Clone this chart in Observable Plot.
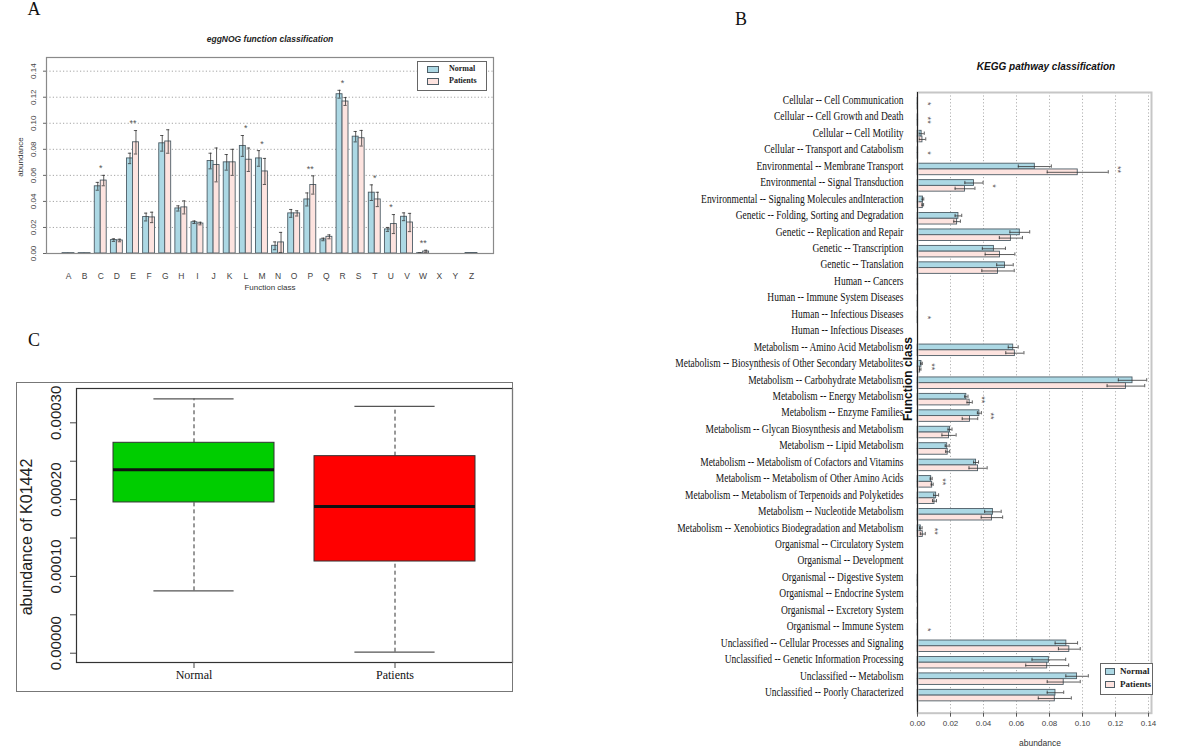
<!DOCTYPE html>
<html><head><meta charset="utf-8">
<script src="https://cdn.jsdelivr.net/npm/d3@7"></script>
<script src="https://cdn.jsdelivr.net/npm/@observablehq/plot@0.6"></script>
<style>
body{margin:0;background:#fff;}
#wrap{position:relative;width:1200px;height:750px;overflow:hidden;background:#fff;font-family:"Liberation Sans",Arial,sans-serif;}
.abs{position:absolute;white-space:nowrap;}
.legend{position:absolute;background:#fff;font-family:"Liberation Serif",serif;font-weight:bold;color:#222;}
.legend .row{position:absolute;white-space:nowrap;line-height:1;}
.legend .sw{display:inline-block;border:1px solid #4d5d66;vertical-align:middle;}
svg{overflow:visible;}
</style></head><body><div id="wrap"></div>
<script>
// ---------- Panel A data (eggNOG) ----------
const eggCats = ["A","B","C","D","E","F","G","H","I","J","K","L","M","N","O","P","Q","R","S","T","U","V","W","X","Y","Z"];
const eggNormal   = [0.0003,0.0003,0.0516,0.0103,0.0730,0.0280,0.0846,0.0346,0.0240,0.0710,0.0700,0.0826,0.0730,0.0059,0.0308,0.0415,0.0108,0.1223,0.0897,0.0467,0.0185,0.0282,0.0003,0,0,0.0004];
const eggPatients = [0.0003,0.0003,0.0560,0.0100,0.0854,0.0277,0.0860,0.0354,0.0230,0.0680,0.0700,0.0720,0.0630,0.0085,0.0308,0.0526,0.0128,0.1167,0.0885,0.0415,0.0226,0.0238,0.0015,0,0,0.0004];
const eggNormalErr   = [0,0,0.003,0.001,0.004,0.003,0.006,0.002,0.001,0.006,0.006,0.008,0.006,0.003,0.003,0.005,0.001,0.003,0.004,0.006,0.0015,0.003,0.0003,0,0,0];
const eggPatientsErr = [0,0,0.004,0.001,0.009,0.004,0.009,0.005,0.001,0.013,0.010,0.009,0.010,0.0077,0.002,0.007,0.0015,0.003,0.006,0.0055,0.0073,0.007,0.001,0,0,0];
const eggSig = ["","","*","","**","","","","","","","*","*","","","**","","*","","*","*","","**","","",""];
const eggTicks = [0,0.02,0.04,0.06,0.08,0.10,0.12,0.14];

// ---------- Panel B data (KEGG) ----------
const keggLabels = [
"Cellular -- Cell Communication","Cellular -- Cell Growth and Death","Cellular -- Cell Motility","Cellular -- Transport and Catabolism",
"Environmental -- Membrane Transport","Environmental -- Signal Transduction","Environmental -- Signaling Molecules andInteraction",
"Genetic -- Folding, Sorting and Degradation","Genetic -- Replication and Repair","Genetic -- Transcription","Genetic -- Translation",
"Human -- Cancers","Human -- Immune System Diseases","Human -- Infectious Diseases","Human -- Infectious Diseases",
"Metabolism -- Amino Acid Metabolism","Metabolism -- Biosynthesis of Other Secondary Metabolites","Metabolism -- Carbohydrate Metabolism",
"Metabolism -- Energy Metabolism","Metabolism -- Enzyme Families","Metabolism -- Glycan Biosynthesis and Metabolism","Metabolism -- Lipid Metabolism",
"Metabolism -- Metabolism of Cofactors and Vitamins","Metabolism -- Metabolism of Other Amino Acids","Metabolism -- Metabolism of Terpenoids and Polyketides",
"Metabolism -- Nucleotide Metabolism","Metabolism -- Xenobiotics Biodegradation and Metabolism",
"Organismal -- Circulatory System","Organismal -- Development","Organismal -- Digestive System","Organismal -- Endocrine System",
"Organismal -- Excretory System","Organismal -- Immune System",
"Unclassified -- Cellular Processes and Signaling","Unclassified -- Genetic Information Processing","Unclassified -- Metabolism","Unclassified -- Poorly Characterized"];
const keggNormal   = [0.0002,0.0004,0.0025,0.0004,0.0711,0.0342,0.0033,0.0248,0.0620,0.0463,0.0530,0.0004,0.0002,0.0001,0,0.0580,0.0024,0.1303,0.0296,0.0375,0.0197,0.0180,0.0355,0.0083,0.0113,0.0457,0.0020,0,0,0.0001,0.0002,0.0002,0.0003,0.0902,0.0796,0.0967,0.0836];
const keggPatients = [0.0002,0.0004,0.0030,0.0004,0.0971,0.0288,0.0032,0.0240,0.0566,0.0500,0.0488,0.0004,0.0002,0.0001,0,0.0590,0.0016,0.1263,0.0316,0.0318,0.0191,0.0183,0.0367,0.0089,0.0103,0.0451,0.0032,0,0,0.0001,0.0002,0.0002,0.0003,0.0920,0.0786,0.0886,0.0832];
const keggNormalErr   = [0,0,0.0016,0,0.010,0.0055,0.0005,0.002,0.006,0.007,0.005,0,0,0,0,0.003,0.0005,0.0086,0.001,0.0012,0.0012,0.0012,0.0015,0.0006,0.0015,0.005,0.0008,0,0,0,0,0,0,0.0068,0.0102,0.0068,0.005];
const keggPatientsErr = [0,0,0.002,0,0.0185,0.006,0.0005,0.002,0.007,0.009,0.0098,0,0,0,0,0.0055,0.0005,0.0114,0.0016,0.0047,0.0043,0.0012,0.0055,0.0006,0.0012,0.0065,0.0015,0,0,0,0,0,0,0.0066,0.013,0.010,0.010];
const keggSig = ["*","**","","*","**","*","","","","","","","","*","","","**","","**","**","","","","**","","","**","","","","","","*","","","",""];
const keggTicks = [0,0.02,0.04,0.06,0.08,0.10,0.12,0.14];

// ---------- Panel C data (K01442 boxplot) ----------
const boxGroups = ["Normal","Patients"];
const boxMin    = [0.0000812,0.0000013];
const boxQ1     = [0.0001963,0.0001194];
const boxMedian = [0.0002388,0.0001911];
const boxQ3     = [0.0002740,0.0002566];
const boxMax    = [0.0003313,0.0003213];
const boxFill   = ["#00cd00","#ff0000"];
const boxMinorTicks = [0,0.00005,0.0001,0.00015,0.0002,0.00025,0.0003];
const boxLabelTicks = [0,0.0001,0.0002,0.0003];

const groups = ["Normal","Patients"];
const groupFill = ["#acd8e4","#fde3df"];
const barStroke = "#4d5d66";

const wrap = document.getElementById("wrap");
function place(node, left, top){ const d=document.createElement("div"); d.className="abs"; d.style.left=left+"px"; d.style.top=top+"px"; d.appendChild(node); wrap.appendChild(d); return d; }
function label(text, cx, cy, css, rot){ const d=document.createElement("div"); d.className="abs"; d.textContent=text; d.style.left=cx+"px"; d.style.top=cy+"px"; d.style.transform="translate(-50%,-50%)"+(rot?" rotate("+rot+"deg)":""); d.style.cssText+=css; wrap.appendChild(d); return d; }
function squeeze(svg, sel, k){
  svg.querySelectorAll(sel).forEach(t=>{
    const tr=t.getAttribute("transform");
    if(tr){ t.setAttribute("transform", tr+" scale("+k+",1)"); }
    else { const x=+t.getAttribute("x")||0; t.setAttribute("x", x/k); t.setAttribute("transform","scale("+k+",1)"); }
  });
}
function legend(left, top, w, h, sw, fs, rows){
  const L=document.createElement("div"); L.className="legend";
  L.style.cssText+=`left:${left}px;top:${top}px;width:${w}px;height:${h}px;border:1px solid #666;font-size:${fs}px;`;
  groups.forEach((g,j)=>{
    const r=document.createElement("div"); r.className="row"; r.style.left=sw.x+"px"; r.style.top=rows[j]+"px";
    r.innerHTML=`<span class="sw" style="width:${sw.w}px;height:${sw.h}px;background:${groupFill[j]}"></span><span style="margin-left:${sw.gap}px;vertical-align:middle">${g}</span>`;
    L.appendChild(r);
  });
  wrap.appendChild(L);
}

// ================= Panel A =================
const eggRows = eggCats.flatMap((c,i)=>[
  {i, group:"Normal",   v:eggNormal[i],   e:eggNormalErr[i],   x1:i-0.37, x2:i,      xc:i-0.185},
  {i, group:"Patients", v:eggPatients[i], e:eggPatientsErr[i], x1:i,      x2:i+0.37, xc:i+0.185}
]);
const eggErr = eggRows.filter(d=>d.e>0);
const eggStars = eggCats.map((c,i)=>({i, s:eggSig[i], top:Math.max(eggNormal[i]+eggNormalErr[i], eggPatients[i]+eggPatientsErr[i])})).filter(d=>d.s);
const plotA = Plot.plot({
  width:540, height:270, marginLeft:46, marginRight:47, marginTop:27, marginBottom:47,
  style:{fontFamily:"Liberation Sans, Arial, sans-serif", background:"transparent", overflow:"visible"},
  x:{type:"linear", domain:[-1.365,26.365], axis:null},
  y:{domain:[0,0.1505], axis:null},
  color:{domain:groups, range:groupFill},
  marks:[
    Plot.ruleY(eggTicks.slice(1), {stroke:"#9a9a9a", strokeDasharray:"1.2,2.2", strokeWidth:0.9}),
    Plot.rectY(eggRows, {x1:"x1", x2:"x2", y1:0, y2:"v", fill:"group", stroke:barStroke, strokeWidth:0.9}),
    Plot.ruleX(eggErr, {x:"xc", y1:d=>d.v-d.e, y2:d=>d.v+d.e, stroke:"#333", strokeWidth:0.8}),
    Plot.ruleY(eggErr, {y:d=>d.v+d.e, x1:d=>d.xc-0.1, x2:d=>d.xc+0.1, stroke:"#333", strokeWidth:0.8}),
    Plot.ruleY(eggErr, {y:d=>d.v-d.e, x1:d=>d.xc-0.1, x2:d=>d.xc+0.1, stroke:"#333", strokeWidth:0.8}),
    Plot.text(eggStars, {x:"i", y:"top", text:"s", dy:-7, fontSize:9, fill:"#555"}),
    Plot.frame({stroke:"#8a8a8a", strokeWidth:1.2}),
    Plot.axisY({ticks:eggTicks, tickFormat:".2f", tickRotate:-90, tickSize:3, tickPadding:8, fontSize:8, fill:"#444", stroke:"#666", label:null}),
    Plot.axisX({ticks:d3.range(eggCats.length), tickFormat:i=>eggCats[i], tickSize:0, tickPadding:19, fontSize:8.5, fill:"#444", label:null})
  ]
});
place(plotA, 0, 30);
label("A", 34, 9, "font-family:'Liberation Serif',serif;font-size:18px;color:#111;");
label("eggNOG function classification", 270, 39, "font-size:8.5px;font-weight:bold;font-style:italic;color:#222;");
label("abundance", 20, 157, "font-size:8px;color:#333;", -90);
label("Function class", 270, 287, "font-size:8px;color:#333;");
legend(417, 61, 68, 28, {x:9,w:10,h:5,gap:10}, 8, [3,15]);

// ================= Panel B =================
const keggRows = keggLabels.flatMap((lab,i)=>[
  {i, group:"Normal",   v:keggNormal[i],   e:keggNormalErr[i],   y1:i-0.35, y2:i,      yc:i-0.175},
  {i, group:"Patients", v:keggPatients[i], e:keggPatientsErr[i], y1:i,      y2:i+0.35, yc:i+0.175}
]);
const keggErr = keggRows.filter(d=>d.e>0);
const keggStars = keggLabels.map((l,i)=>({i, s:keggSig[i], top:Math.max(keggNormal[i]+keggNormalErr[i], keggPatients[i]+keggPatientsErr[i])})).filter(d=>d.s);
const plotB = Plot.plot({
  width:640, height:710, marginLeft:357, marginRight:49, marginTop:52, marginBottom:37.3,
  style:{fontFamily:"Liberation Sans, Arial, sans-serif", background:"transparent", overflow:"visible"},
  x:{domain:[0,0.1418], axis:null},
  y:{domain:[-0.68,37.07], reverse:true, axis:null},
  color:{domain:groups, range:groupFill},
  marks:[
    Plot.ruleX(keggTicks.slice(1), {stroke:"#a8a8a8", strokeDasharray:"1.2,2.2", strokeWidth:0.9}),
    Plot.rectX(keggRows, {y1:"y1", y2:"y2", x1:0, x2:"v", fill:"group", stroke:barStroke, strokeWidth:0.9}),
    Plot.ruleY(keggErr, {y:"yc", x1:d=>d.v-d.e, x2:d=>d.v+d.e, stroke:"#333", strokeWidth:0.8}),
    Plot.ruleX(keggErr, {x:d=>d.v-d.e, y1:d=>d.yc-0.1, y2:d=>d.yc+0.1, stroke:"#333", strokeWidth:0.8}),
    Plot.ruleX(keggErr, {x:d=>d.v+d.e, y1:d=>d.yc-0.1, y2:d=>d.yc+0.1, stroke:"#333", strokeWidth:0.8}),
    Plot.text(keggStars, {x:"top", y:"i", text:"s", dx:10, rotate:90, fontSize:9, fill:"#555"}),
    Plot.frame({stroke:"#c6c6c6", strokeWidth:2}),
    Plot.ruleX([0], {stroke:"#222", strokeWidth:1}),
    Plot.axisX({ticks:keggTicks, tickFormat:".2f", tickSize:4, tickPadding:3, fontSize:8, fill:"#444", stroke:"#555", label:null}),
    Plot.axisY({ticks:d3.range(keggLabels.length), tickFormat:i=>keggLabels[i], tickSize:0, tickPadding:14, dy:-3.5, fontSize:12, fill:"#111", fontFamily:"Liberation Serif, Times New Roman, serif", label:null})
  ]
});
place(plotB, 560, 40);
squeeze(plotB, '[aria-label="y-axis tick label"] text', 0.79);
label("B", 741, 19, "font-family:'Liberation Serif',serif;font-size:18px;color:#111;");
label("KEGG pathway classification", 1046, 66, "font-size:10px;font-weight:bold;font-style:italic;color:#111;");
label("Function class", 908, 379, "font-size:12px;font-weight:bold;color:#111;", -90);
label("abundance", 1040, 743, "font-size:8.5px;color:#333;");
legend(1100, 663, 51, 30, {x:4,w:8,h:5,gap:5}, 9, [3,16]);

// ================= Panel C =================
const boxRows = boxGroups.map((g,i)=>({g, min:boxMin[i], q1:boxQ1[i], med:boxMedian[i], q3:boxQ3[i], max:boxMax[i], fill:boxFill[i]}));
const plotC = Plot.plot({
  width:540, height:330, marginLeft:76, marginRight:28, marginTop:18, marginBottom:38,
  style:{fontFamily:"Liberation Sans, Arial, sans-serif", background:"transparent", overflow:"visible"},
  x:{type:"band", domain:boxGroups, paddingInner:0.1985, paddingOuter:0.181, axis:null},
  y:{domain:[-0.0000121,0.0003447], axis:null},
  color:{type:"identity"},
  marks:[
    Plot.ruleX(boxRows, {x:"g", y1:"min", y2:"q1", stroke:"#333", strokeDasharray:"4,3"}),
    Plot.ruleX(boxRows, {x:"g", y1:"q3", y2:"max", stroke:"#333", strokeDasharray:"4,3"}),
    Plot.tickY(boxRows, {x:"g", y:"min", stroke:"#555", strokeWidth:1.2, insetLeft:40.4, insetRight:40.4}),
    Plot.tickY(boxRows, {x:"g", y:"max", stroke:"#555", strokeWidth:1.2, insetLeft:40.4, insetRight:40.4}),
    Plot.barY(boxRows, {x:"g", y1:"q1", y2:"q3", fill:"fill", stroke:"#333", strokeWidth:1}),
    Plot.tickY(boxRows, {x:"g", y:"med", stroke:"#111", strokeWidth:3}),
    Plot.frame({stroke:"#333", strokeWidth:1.2}),
    Plot.axisY({ticks:boxMinorTicks, tickFormat:()=>"", tickSize:6, stroke:"#444", label:null}),
    Plot.axisY({ticks:boxLabelTicks, tickFormat:".5f", tickSize:0, tickPadding:16, tickRotate:-90, dy:-10, fontSize:15, fill:"#222", label:null}),
    Plot.axisX({tickSize:6, tickPadding:2, fontSize:12, fill:"#111", stroke:"#444", fontFamily:"Liberation Serif, Times New Roman, serif", label:null})
  ]
});
place(plotC, 0, 370);
const outer=document.createElement("div"); outer.className="abs"; outer.style.cssText+="left:16px;top:382px;width:495px;height:308px;border:1px solid #777;";
wrap.appendChild(outer);
label("C", 34, 340, "font-family:'Liberation Serif',serif;font-size:18px;color:#111;");
label("abundance of  K01442", 27, 537, "font-size:16px;color:#222;", -90);
</script></body></html>
